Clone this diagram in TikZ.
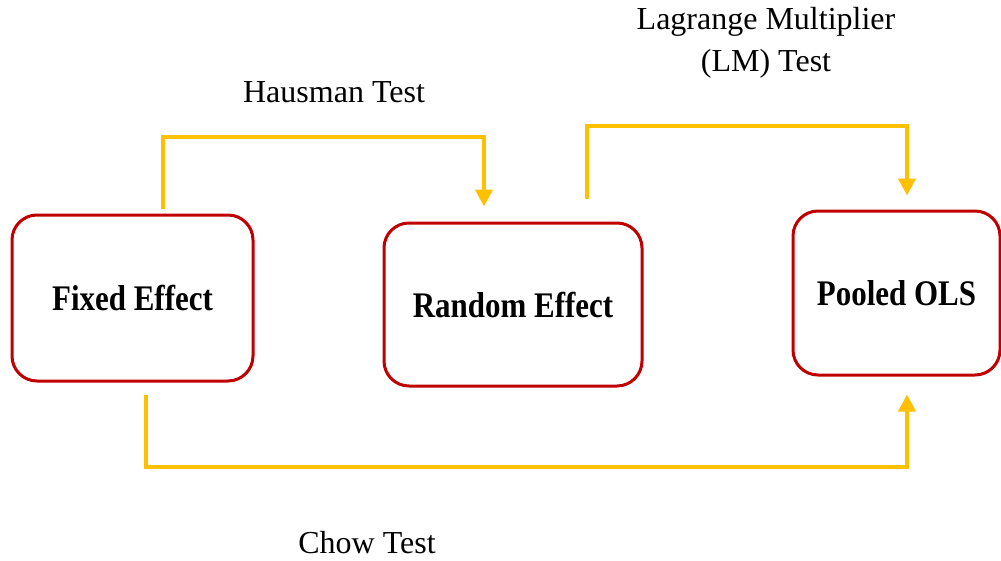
\documentclass[tikz,border=0pt]{standalone}
\usepackage{fontspec}
\setmainfont{Liberation Serif}
\usetikzlibrary{arrows.meta,calc}
\definecolor{boxred}{HTML}{C00000}
\definecolor{gold}{HTML}{FFC000}
\begin{document}
\begin{tikzpicture}[x=1pt,y=-1pt,
  modelbox/.style={draw=boxred,line width=3pt,rounded corners=25pt,fill=white,
    inner sep=0pt,font=\fontsize{36}{40}\selectfont\bfseries},
  conn/.style={draw=gold,line width=4pt,-{Triangle[width=17pt,length=17pt]}},
  lbl/.style={inner sep=0pt,align=center,font=\fontsize{32}{42}\selectfont}]
\useasboundingbox (0,0) rectangle (1001,560);
\node[modelbox,minimum width=241pt,minimum height=166pt] (fixed) at (132.5,298) {\scalebox{0.86}[1]{Fixed Effect}};
\node[modelbox,minimum width=258pt,minimum height=163pt] (random) at (513,304.5) {\scalebox{0.86}[1]{Random Effect}};
\node[modelbox,minimum width=207pt,minimum height=164pt] (pooled) at (896.5,293) {\scalebox{0.86}[1]{Pooled OLS}};
\coordinate (h1) at ([xshift=30.5pt,yshift=5pt]fixed.north);
\coordinate (h2) at ([xshift=-29pt,yshift=15pt]random.north);
\coordinate (l1) at ([xshift=74pt,yshift=23pt]random.north);
\coordinate (l2) at ([xshift=10.5pt,yshift=14pt]pooled.north);
\coordinate (c1) at ([xshift=13pt,yshift=-12pt]fixed.south);
\coordinate (c2) at ([xshift=10.5pt,yshift=-18pt]pooled.south);
\draw[conn] (h1) -- (h1 |- 0,137) -| (h2);
\draw[conn] (l1) -- (l1 |- 0,126) -| (l2);
\draw[conn] (c1) -- (c1 |- 0,467) -| (c2);
\node[lbl] (hlab) at (334,92) {Hausman Test};
\node[lbl] (lmlab) at (766,43) {Lagrange Multiplier\\(LM) Test};
\node[lbl] (chowlab) at (367,543) {Chow Test};
\end{tikzpicture}
\end{document}
